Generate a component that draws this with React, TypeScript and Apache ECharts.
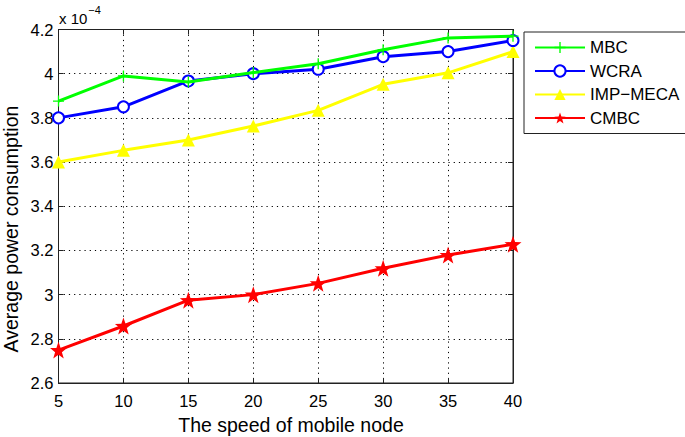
import React, { useEffect, useRef } from "react";
import * as echarts from "echarts";

// values in units of 1e-4
const speeds = [5, 10, 15, 20, 25, 30, 35, 40];
const mbc = [3.876, 3.99, 3.962, 4.005, 4.045, 4.108, 4.162, 4.17];
const wcra = [3.8, 3.85, 3.967, 4.0, 4.02, 4.077, 4.1, 4.15];
const impMeca = [3.6, 3.653, 3.7, 3.763, 3.834, 3.952, 4.004, 4.1];
const cmbc = [2.749, 2.858, 2.975, 3.0, 3.051, 3.119, 3.179, 3.228];

const seriesNames = ["MBC", "WCRA", "IMP\u2212MECA", "CMBC"];
const seriesColors = ["#00ff00", "#0000ff", "#ffff00", "#ff0000"];
const xTitle = "The speed of mobile node";
const yTitle = "Average power consumption";

const FONT = "Liberation Sans, Arial, Helvetica, sans-serif";
const PLUS = "path://M4.4,0h1.2v4.4h4.4v1.2h-4.4v4.4h-1.2v-4.4h-4.4v-1.2h4.4z";
const STAR = "path://M0,-10L2.35,-3.24L9.51,-3.09L3.8,1.24L5.88,8.09L0,4L-5.88,8.09L-3.8,1.24L-9.51,-3.09L-2.35,-3.24Z";

export default function App() {
  const ref = useRef<HTMLDivElement>(null);
  useEffect(() => {
    if (!ref.current) return;
    const chart = echarts.init(ref.current, undefined, { renderer: "svg" });
    const all = [mbc, wcra, impMeca, cmbc];
    const symbols = [PLUS, "emptyCircle", "triangle", STAR];
    const sizes = [11, 11, 13, 17];
    const series = all.map((vals, i) => ({
      name: seriesNames[i],
      type: "line",
      data: speeds.map((s, j) => [s, vals[j]]),
      symbol: symbols[i],
      symbolSize: sizes[i],
      showAllSymbol: true,
      lineStyle: { color: seriesColors[i], width: 3 },
      itemStyle: {
        color: seriesColors[i],
        borderColor: seriesColors[i],
        borderWidth: i === 1 ? 2.5 : 0,
      },
      z: 10 - i,
    }));
    const tickLabel = { color: "#000", fontSize: 16.5, fontFamily: FONT };
    const gridLine = { show: true, lineStyle: { color: "#000", type: [1.2, 4], width: 1 } };
    chart.setOption({
      animation: false,
      backgroundColor: "#ffffff",
      grid: {
        left: 58.5,
        right: 172,
        top: 29.5,
        bottom: 54,
        show: true,
        borderColor: "#222",
        borderWidth: 1,
        backgroundColor: "transparent",
      },
      legend: {
        orient: "vertical",
        left: 524,
        top: 32,
        width: 159,
        backgroundColor: "#fff",
        borderColor: "#222",
        borderWidth: 1,
        borderRadius: 0,
        padding: [7, 8, 7, 10],
        itemWidth: 50,
        itemHeight: 14,
        itemGap: 6.5,
        textStyle: { color: "#000", fontSize: 17, lineHeight: 17, fontFamily: FONT },
        data: seriesNames,
      },
      xAxis: [
        {
          type: "value",
          min: 5,
          max: 40,
          interval: 5,
          axisLine: { lineStyle: { color: "#222", width: 1 } },
          axisTick: { inside: true, length: 5, lineStyle: { color: "#222" } },
          axisLabel: { ...tickLabel, margin: 9 },
          splitLine: gridLine,
        },
        {
          type: "value",
          position: "top",
          min: 5,
          max: 40,
          interval: 5,
          axisLine: { lineStyle: { color: "#222", width: 1 } },
          axisTick: { inside: true, length: 5, lineStyle: { color: "#222" } },
          axisLabel: { show: false },
          splitLine: { show: false },
        },
      ],
      yAxis: [
        {
          type: "value",
          min: 2.6,
          max: 4.2,
          interval: 0.2,
          axisLine: { show: true, lineStyle: { color: "#222", width: 1 } },
          axisTick: { show: true, inside: true, length: 5, lineStyle: { color: "#222" } },
          axisLabel: {
            ...tickLabel,
            margin: 5,
            formatter: (v: number) => {
              const r = Math.round(v * 10) / 10;
              return Number.isInteger(r) ? String(r) : r.toFixed(1);
            },
          },
          splitLine: gridLine,
        },
        {
          type: "value",
          position: "right",
          min: 2.6,
          max: 4.2,
          interval: 0.2,
          axisLine: { show: true, lineStyle: { color: "#222", width: 1 } },
          axisTick: { show: true, inside: true, length: 5, lineStyle: { color: "#222" } },
          axisLabel: { show: false },
          splitLine: { show: false },
        },
      ],
      graphic: [
        {
          type: "text",
          x: 59,
          y: 4,
          style: {
            text: "{a|x 10}{b|\u22124}",
            rich: {
              a: { fontSize: 15, fontFamily: FONT, fill: "#000", verticalAlign: "bottom", lineHeight: 22 },
              b: { fontSize: 11, fontFamily: FONT, fill: "#000", verticalAlign: "top", lineHeight: 22, padding: [0, 0, 10, 1] },
            },
          },
        },
        {
          type: "text",
          x: 291,
          y: 425,
          style: {
            text: xTitle,
            fontSize: 19.5,
            fontFamily: FONT,
            fill: "#000",
            align: "center",
            verticalAlign: "middle",
          },
        },
        {
          type: "text",
          x: 11,
          y: 229,
          rotation: Math.PI / 2,
          style: {
            text: yTitle,
            fontSize: 19.5,
            fontFamily: FONT,
            fill: "#000",
            align: "center",
            verticalAlign: "middle",
          },
        },
      ],
      series,
    });
    return () => chart.dispose();
  }, []);
  return (
    <div
      ref={ref}
      style={{ position: "fixed", left: 0, top: 0, width: 685, height: 437 }}
    />
  );
}
